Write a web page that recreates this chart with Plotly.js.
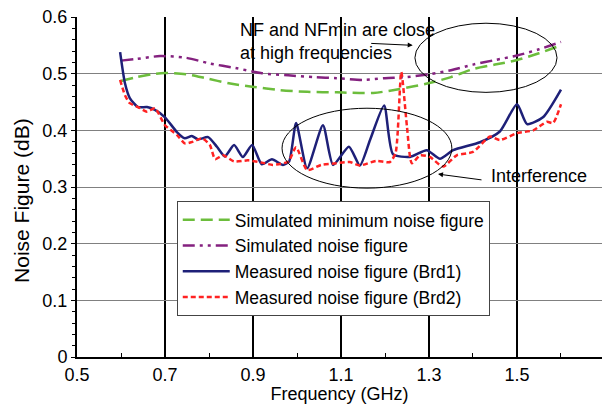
<!DOCTYPE html>
<html>
<head>
<meta charset="utf-8">
<script src="https://cdn.plot.ly/plotly-3.0.1.min.js"></script>
<style>html,body{margin:0;padding:0;background:#fff;}#chart{width:602px;height:404px;}</style>
</head>
<body>
<div id="chart"></div>
<script>
// Simulated minimum noise figure
const nfminX = [0.6,0.636,0.67,0.7,0.748,0.793,0.845,0.898,0.961,1.023,1.09,1.173,1.234,1.298,1.35,1.4,1.45,1.5,1.55,1.6];
const nfminY = [0.487,0.494,0.499,0.501,0.499,0.492,0.483,0.477,0.471,0.468,0.467,0.466,0.473,0.483,0.494,0.508,0.516,0.524,0.536,0.55];
// Simulated noise figure
const nfX = [0.6,0.636,0.689,0.748,0.802,0.86,0.918,0.98,1.039,1.09,1.15,1.2,1.25,1.3,1.35,1.4,1.45,1.5,1.55,1.6];
const nfY = [0.523,0.526,0.531,0.528,0.518,0.51,0.501,0.497,0.494,0.492,0.489,0.492,0.494,0.499,0.506,0.516,0.524,0.532,0.543,0.556];
// Measured noise figure (Brd1)
const brd1X = [0.598,0.609,0.62,0.639,0.659,0.677,0.7,0.727,0.745,0.761,0.775,0.798,0.818,0.836,0.857,0.877,0.898,0.92,0.943,0.968,0.982,0.998,1.023,1.059,1.082,1.118,1.143,1.166,1.198,1.218,1.257,1.295,1.325,1.355,1.416,1.461,1.5,1.523,1.559,1.6];
const brd1Y = [0.538,0.483,0.457,0.441,0.441,0.436,0.423,0.397,0.386,0.39,0.384,0.388,0.371,0.354,0.374,0.353,0.374,0.34,0.349,0.339,0.345,0.413,0.333,0.409,0.339,0.371,0.338,0.383,0.444,0.358,0.353,0.365,0.35,0.365,0.379,0.398,0.446,0.411,0.423,0.472];
// Measured noise figure (Brd2)
const brd2X = [0.598,0.609,0.62,0.639,0.659,0.677,0.7,0.727,0.745,0.764,0.784,0.802,0.814,0.832,0.857,0.889,0.92,0.945,0.98,0.998,1.023,1.055,1.09,1.12,1.143,1.18,1.211,1.224,1.237,1.25,1.261,1.28,1.302,1.332,1.363,1.4,1.439,1.461,1.5,1.537,1.568,1.582,1.6];
const brd2Y = [0.489,0.462,0.448,0.441,0.433,0.439,0.409,0.392,0.377,0.38,0.386,0.374,0.349,0.356,0.345,0.347,0.343,0.339,0.345,0.37,0.33,0.339,0.342,0.344,0.338,0.346,0.344,0.36,0.503,0.406,0.342,0.356,0.353,0.336,0.356,0.362,0.389,0.383,0.395,0.4,0.415,0.413,0.446];

const seriesNames = ['Simulated minimum noise figure','Simulated noise figure','Measured noise figure (Brd1)','Measured noise figure (Brd2)'];
const xTickVals = [0.5,0.7,0.9,1.1,1.3,1.5];
const xTickText = ['0.5','0.7','0.9','1.1','1.3','1.5'];
const yTickVals = [0,0.1,0.2,0.3,0.4,0.5,0.6];
const yTickText = ['0','0.1','0.2','0.3','0.4','0.5','0.6'];

const FONT = 'Liberation Sans, Arial, sans-serif';

const traces = [
  {x: nfminX, y: nfminY, name: seriesNames[0], mode:'lines',
   line:{color:'#6cbd3c', width:2.5, dash:'12px,6px', shape:'spline', smoothing:0.8}},
  {x: nfX, y: nfY, name: seriesNames[1], mode:'lines',
   line:{color:'#84217f', width:2.5, dash:'12px,5px,3px,5px,3px,5px', shape:'spline', smoothing:0.8}},
  {x: brd1X, y: brd1Y, name: seriesNames[2], mode:'lines',
   line:{color:'#1e2078', width:2.5, shape:'spline', smoothing:0.6}},
  {x: brd2X, y: brd2Y, name: seriesNames[3], mode:'lines',
   line:{color:'#ff2222', width:2.5, dash:'5px,3px', shape:'spline', smoothing:0.6}}
];

const layout = {
  width: 602, height: 404,
  margin: {l: 77, r: 0, t: 17, b: 47, pad: 0},
  paper_bgcolor: '#fff', plot_bgcolor: '#fff',
  font: {family: FONT, size: 18, color: '#000'},
  showlegend: true,
  legend: {x: 0.19, y: 0.459, xanchor: 'left', yanchor: 'top',
    bgcolor: '#fff', bordercolor: '#444', borderwidth: 1, itemwidth: 47,
    font: {family: FONT, size: 17.5, color: '#000'}},
  xaxis: {
    range: [0.5, 1.6932], tickvals: xTickVals, ticktext: xTickText,
    showgrid: true, gridcolor: '#000', gridwidth: 1.5,
    showline: true, linecolor: '#000', linewidth: 2,
    ticks: 'inside', ticklen: 4, tickcolor: '#000', zeroline: false,
    minor: {tickvals: [0.6,0.8,1.0,1.2,1.4,1.6], ticks: 'inside', ticklen: 4, tickcolor: '#000', showgrid: false},
    tickfont: {family: FONT, size: 18},
    title: {text: 'Frequency (GHz)', font: {family: FONT, size: 18}, standoff: 6}
  },
  yaxis: {
    range: [0, 0.6], tickvals: yTickVals, ticktext: yTickText,
    showgrid: true, gridcolor: '#808080', gridwidth: 1,
    showline: true, linecolor: '#000', linewidth: 2,
    ticks: 'outside', ticklen: 4, tickcolor: '#000', zeroline: false,
    minor: {dtick: 0.02, ticks: 'outside', ticklen: 3, tickcolor: '#000', showgrid: false},
    tickfont: {family: FONT, size: 18}
  },
  shapes: [
    {type: 'circle', xref: 'x', yref: 'y', x0: 1.268, x1: 1.591, y0: 0.467, y1: 0.589,
     line: {color: '#000', width: 1}, layer: 'above'},
    {type: 'circle', xref: 'x', yref: 'y', x0: 0.966, x1: 1.352, y0: 0.298, y1: 0.439,
     line: {color: '#000', width: 1}, layer: 'above'}
  ],
  annotations: [
    {xref: 'paper', yref: 'paper', x: -0.1048, y: 0.462, xanchor: 'center', yanchor: 'middle',
     text: 'Noise Figure (dB)', textangle: -90, showarrow: false,
     font: {family: FONT, size: 21}},
    {xref: 'x', yref: 'y', x: 0.867, y: 0.557, xanchor: 'left', yanchor: 'middle', align: 'left',
     text: 'NF and NFmin are close<br>at high frequencies', showarrow: false,
     font: {family: FONT, size: 18}},
    {xref: 'x', yref: 'y', x: 1.263, y: 0.550, ax: -43, ay: -2, text: '', showarrow: true,
     arrowhead: 2, arrowsize: 1, arrowwidth: 1, arrowcolor: '#000'},
    {xref: 'x', yref: 'y', x: 1.436, y: 0.319, xanchor: 'left', yanchor: 'middle',
     text: 'Interference', showarrow: false, font: {family: FONT, size: 18}},
    {xref: 'x', yref: 'y', x: 1.3205, y: 0.3228, ax: 45, ay: 6, text: '', showarrow: true,
     arrowhead: 2, arrowsize: 1, arrowwidth: 1, arrowcolor: '#000'}
  ]
};

Plotly.newPlot('chart', traces, layout, {displayModeBar: false, staticPlot: true});
</script>
</body>
</html>
